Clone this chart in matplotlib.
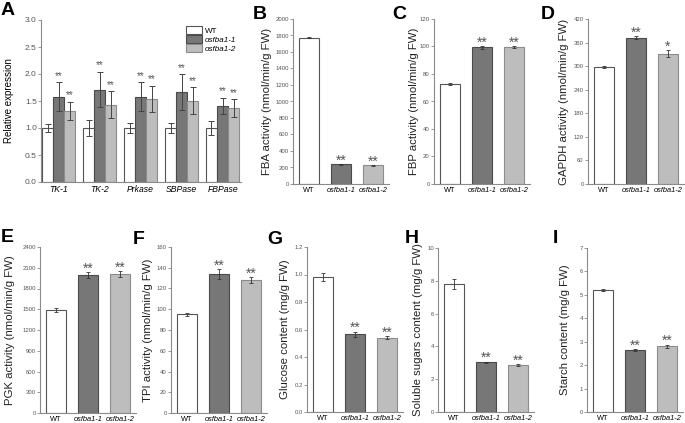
import matplotlib
matplotlib.use("Agg")
import matplotlib.pyplot as plt
import numpy as np

plt.rcParams["font.family"] = ["Liberation Sans", "DejaVu Sans"]

# ---- data ----
GENOTYPES = ["WT", "osfba1-1", "osfba1-2"]

# A: relative expression of Calvin cycle genes
genes = ["TK-1", "TK-2", "Prkase", "SBPase", "FBPase"]
expr_wt = [1.00, 1.00, 1.00, 1.00, 1.00]
expr_wt_err = [0.08, 0.15, 0.10, 0.10, 0.13]
expr_m1 = [1.58, 1.71, 1.58, 1.67, 1.41]
expr_m1_err = [0.27, 0.33, 0.27, 0.33, 0.15]
expr_m2 = [1.32, 1.43, 1.54, 1.50, 1.37]
expr_m2_err = [0.17, 0.25, 0.24, 0.25, 0.16]

# B-I: enzyme activities and sugar contents (WT, osfba1-1, osfba1-2)
fba = [1775, 240, 225]
fba_err = [10, 5, 5]
fbp = [72.5, 99.5, 99.5]
fbp_err = [0.6, 1.0, 0.6]
gapdh = [298, 372, 332]
gapdh_err = [3, 4, 8]
pgk = [1485, 1995, 2010]
pgk_err = [30, 45, 40]
tpi = [95, 134, 128]
tpi_err = [1.5, 5, 3]
glucose = [0.98, 0.565, 0.54]
glucose_err = [0.03, 0.02, 0.01]
soluble = [7.78, 3.02, 2.87]
soluble_err = [0.30, 0.05, 0.06]
starch = [5.22, 2.63, 2.80]
starch_err = [0.05, 0.04, 0.08]

stars_two = ["", "**", "**"]
stars_gapdh = ["", "**", "*"]

# ---- style ----
W, H = 685, 423
FACE = ["white", "#777777", "#bdbdbd"]
EDGE = ["#555555", "#4a4a4a", "#8c8c8c"]
SPINE = "#8a8a8a"
TICKTXT = "#555555"
STARC = "#555555"


def box(l, t, r, b):
    return [l / W, 1 - b / H, (r - l) / W, (b - t) / H]


def style(ax, ymax, step, fs):
    for s in ("top", "right"):
        ax.spines[s].set_visible(False)
    for s in ("left", "bottom"):
        ax.spines[s].set_color(SPINE)
        ax.spines[s].set_linewidth(0.8)
    ticks = np.arange(0, ymax + step / 2, step)
    ax.set_ylim(0, ymax)
    ax.set_yticks(ticks)
    if float(step).is_integer():
        ax.set_yticklabels([f"{t:.0f}" for t in ticks])
    else:
        ax.set_yticklabels([f"{t:.1f}" for t in ticks])
    ax.tick_params(axis="y", labelsize=fs, labelcolor=TICKTXT, color=SPINE,
                   length=2, width=0.6, pad=1)
    ax.tick_params(axis="x", length=0, pad=2)


fig = plt.figure(figsize=(6.85, 4.23), dpi=100)

# ---- panel A ----
ax = fig.add_axes(box(41, 20, 241, 182))
x = np.arange(len(genes))
w = 0.27
series = [(expr_wt, expr_wt_err), (expr_m1, expr_m1_err), (expr_m2, expr_m2_err)]
for k, (vals, errs) in enumerate(series):
    pos = x + (k - 1) * w
    ax.bar(pos, vals, w, color=FACE[k], edgecolor=EDGE[k], linewidth=0.8,
           label=GENOTYPES[k], zorder=2)
    ax.errorbar(pos, vals, yerr=errs, fmt="none", ecolor="#444444",
                elinewidth=0.7, capsize=2, capthick=0.7, zorder=3)
    if k > 0:
        for p, v, e in zip(pos, vals, errs):
            ax.annotate("**", (p, v + e), xytext=(0, 1), textcoords="offset points",
                        ha="center", va="bottom", fontsize=7, color=STARC)
ax.set_xlim(-0.43, 4.45)
style(ax, 3.0, 0.5, 6)
ax.set_xticks(x)
ax.set_xticklabels(genes, fontsize=6.2, fontstyle="italic")
ax.set_ylabel("Relative expression", fontsize=7)
ax.yaxis.set_label_coords((14 - 41) / 200, 0.5)
leg = ax.legend(loc="upper right", bbox_to_anchor=(1.0, 0.99), fontsize=5.8,
                frameon=False, handlelength=2.0, handleheight=1.15,
                labelspacing=0.0, handletextpad=0.3, borderpad=0.1)
for t in leg.get_texts()[1:]:
    t.set_fontstyle("italic")

# ---- panels B-I ----
panels = [
    ("B", (293, 19, 389, 184), fba, fba_err, stars_two, 2000, 200,
     "FBA activity (nmol/min/g FW)", 272, (253, 6)),
    ("C", (434, 19, 530, 184), fbp, fbp_err, stars_two, 120, 20,
     "FBP activity (nmol/min/g FW)", 419, (392, 6)),
    ("D", (588, 19, 684, 184), gapdh, gapdh_err, stars_gapdh, 420, 60,
     "GAPDH activity (nmol/min/g FW)", 569, (541, 6)),
    ("E", (40, 247, 136, 413), pgk, pgk_err, stars_two, 2400, 300,
     "PGK activity (nmol/min/g FW)", 15, (1, 229)),
    ("F", (171, 247, 267, 413), tpi, tpi_err, stars_two, 160, 20,
     "TPI activity (nmol/min/g FW)", 153, (133, 231)),
    ("G", (307, 247, 403, 412), glucose, glucose_err, stars_two, 1.2, 0.2,
     "Glucose content (mg/g FW)", 290, (267, 231)),
    ("H", (438, 248, 534, 412), soluble, soluble_err, stars_two, 10, 2,
     "Soluble sugars content (mg/g FW)", 423, (405, 230)),
    ("I", (587, 248, 683, 412), starch, starch_err, stars_two, 7, 1,
     "Starch content (mg/g FW)", 570, (553, 230)),
]

for letter, rect, vals, errs, stars, ymax, step, ylabel, lab_x, let_xy in panels:
    ax = fig.add_axes(box(*rect))
    pos = np.arange(3)
    ax.bar(pos, vals, 0.62, color=FACE, edgecolor=EDGE, linewidth=0.8, zorder=2)
    ax.errorbar(pos, vals, yerr=errs, fmt="none", ecolor="#333333",
                elinewidth=0.6, capsize=1.5, capthick=0.6, zorder=3)
    for p, v, e, s in zip(pos, vals, errs, stars):
        if s:
            ax.annotate(s, (p, v + e), xytext=(0, 2.5), textcoords="offset points",
                        ha="center", va="center", fontsize=10, color=STARC)
    ax.set_xlim(-0.5, 2.5)
    style(ax, ymax, step, 4.3)
    ax.set_xticks(pos)
    ax.set_xticklabels(GENOTYPES, fontsize=5.3)
    for t in ax.get_xticklabels()[1:]:
        t.set_fontstyle("italic")
    ax.set_ylabel(ylabel, fontsize=8.2, color="#222222")
    ax.yaxis.set_label_coords((lab_x - rect[0]) / (rect[2] - rect[0]), 0.5)
    fig.text(let_xy[0] / W, 1 - let_xy[1] / H, letter, ha="left", va="top",
             fontsize=14, fontweight="bold")

fig.text(1 / W, 1 - 2 / H, "A", ha="left", va="top", fontsize=14, fontweight="bold")

fig.savefig("out.png", dpi=100)
